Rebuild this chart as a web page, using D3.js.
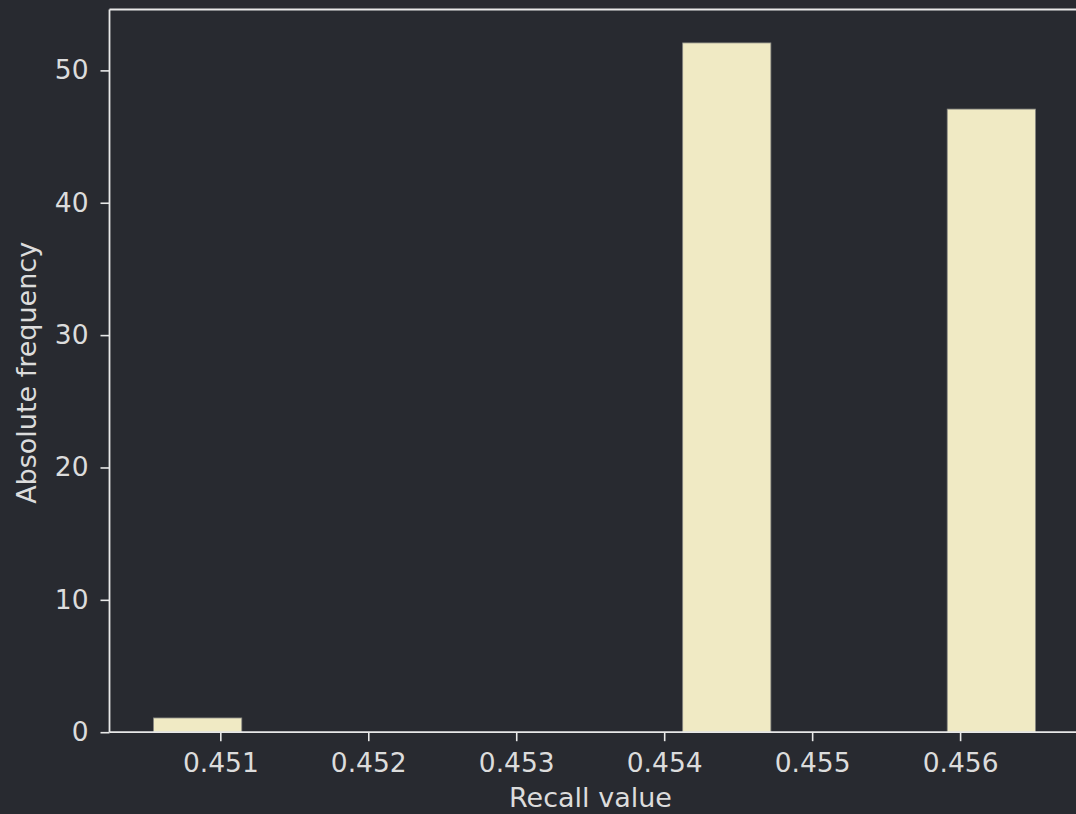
<!DOCTYPE html>
<html>
<head>
<meta charset="utf-8">
<script src="https://cdn.jsdelivr.net/npm/d3@7"></script>
<style>
html,body{margin:0;padding:0;background:#282a30;}
svg{display:block;}
</style>
</head>
<body>
<script>
// Histogram of recall values (10 bins)
const binEdges = [0.450549, 0.451145, 0.451741, 0.452337, 0.452933, 0.453529, 0.454125, 0.454721, 0.455317, 0.455913, 0.456509];
const counts = [1, 0, 0, 0, 0, 0, 52, 0, 0, 47];
const xTicks = [0.451, 0.452, 0.453, 0.454, 0.455, 0.456];
const yTicks = [0, 10, 20, 30, 40, 50];
const xLabel = "Recall value";
const yLabel = "Absolute frequency";

const W = 1076, H = 814;
const mLeft = 109.5, mRight = 1079.5, mTop = 9.5, mBottom = 732.2;
const bg = "#282a30", fg = "#e8e8e8", textCol = "#dcdcdc", barCol = "#f0eac4";

const bins = counts.map((c, i) => ({x0: binEdges[i], x1: binEdges[i+1], c}));
const lo = binEdges[0], hi = binEdges[binEdges.length-1], span = hi - lo;
const maxC = d3.max(counts);

const x = d3.scaleLinear().domain([lo - 0.05*span, hi + 0.05*span]).range([mLeft, mRight]);
const y = d3.scaleLinear().domain([0, maxC*1.05]).range([mBottom, mTop]);

const svg = d3.select("body").append("svg").attr("width", W).attr("height", H)
  .style("font-family", "'DejaVu Sans', sans-serif");
svg.append("rect").attr("width", W).attr("height", H).attr("fill", bg);

svg.append("g").selectAll("rect").data(bins.filter(d => d.c > 0)).join("rect")
  .attr("x", d => x(d.x0)).attr("width", d => x(d.x1) - x(d.x0))
  .attr("y", d => y(d.c) - 1).attr("height", d => y(0) - y(d.c) + 1)
  .attr("fill", barCol).attr("stroke", "#8a8a84").attr("stroke-width", 0.8);

// spines
svg.append("line").attr("x1", mLeft).attr("x2", mRight).attr("y1", mTop).attr("y2", mTop).attr("stroke", fg).attr("stroke-width", 1.8);
svg.append("line").attr("x1", mRight).attr("x2", mRight).attr("y1", mTop).attr("y2", mBottom).attr("stroke", fg).attr("stroke-width", 1.8);

const fs = 26.5, lfs = 27;
const xAxis = svg.append("g").attr("transform", `translate(0,${mBottom})`)
  .call(d3.axisBottom(x).tickValues(xTicks).tickFormat(d3.format(".3f")).tickSize(9).tickPadding(12).tickSizeOuter(0));
const yAxis = svg.append("g").attr("transform", `translate(${mLeft},0)`)
  .call(d3.axisLeft(y).tickValues(yTicks).tickFormat(d3.format("d")).tickSize(9).tickPadding(12).tickSizeOuter(0));
[xAxis, yAxis].forEach(a => {
  a.select(".domain").attr("stroke", fg).attr("stroke-width", 1.8);
  a.selectAll(".tick line").attr("stroke", fg).attr("stroke-width", 1.6);
  a.selectAll(".tick text").attr("fill", textCol).style("font-size", fs + "px").style("font-family", "'DejaVu Sans', sans-serif");
});
xAxis.select(".domain").attr("d", `M${mLeft},0H${mRight}`);
yAxis.select(".domain").attr("d", `M0,${mTop}V${mBottom}`);

svg.append("text").attr("x", (mLeft + mRight)/2 - 4).attr("y", 807)
  .attr("text-anchor", "middle").attr("fill", textCol).style("font-size", lfs + "px").text(xLabel);
svg.append("text").attr("transform", `translate(36,${(mTop+mBottom)/2 + 2}) rotate(-90)`)
  .attr("text-anchor", "middle").attr("fill", textCol).style("font-size", lfs + "px").text(yLabel);
</script>
</body>
</html>
